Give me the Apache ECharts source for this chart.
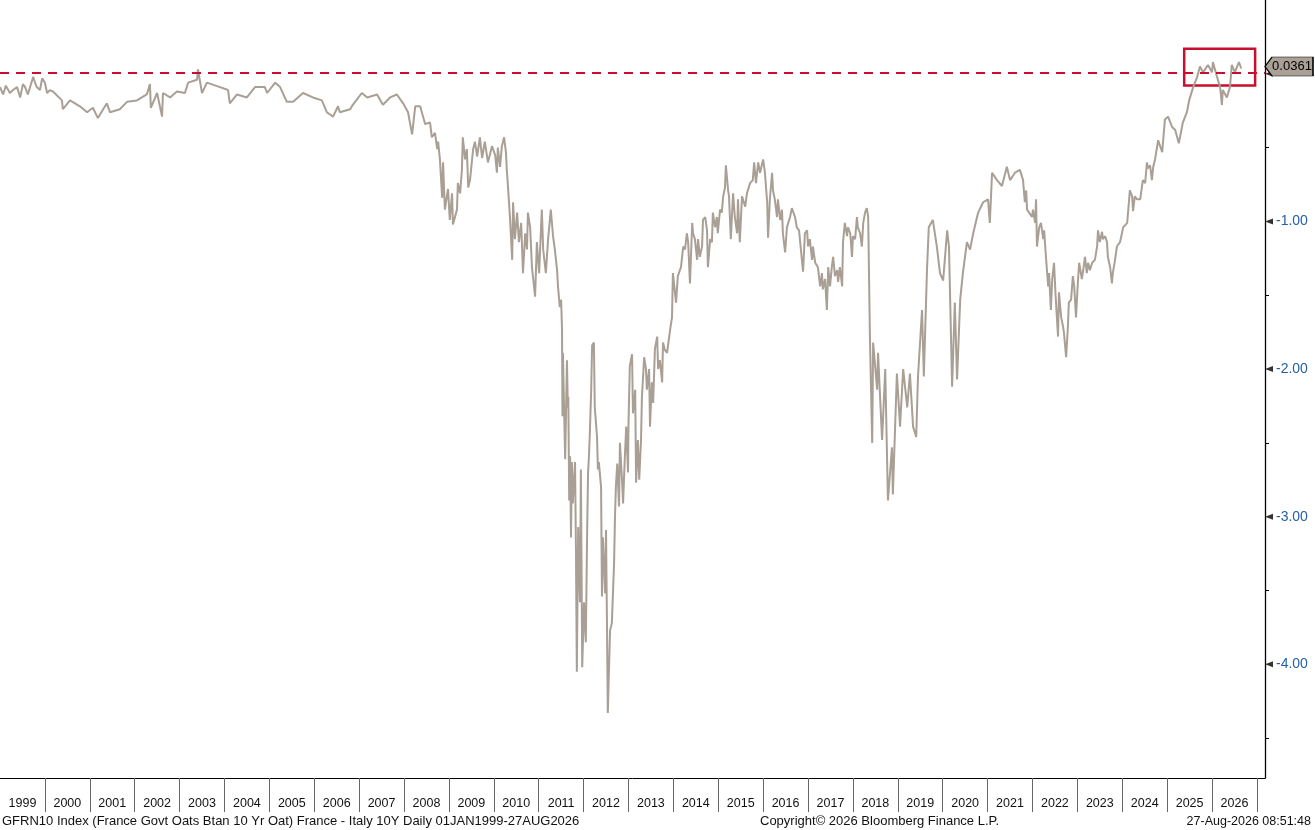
<!DOCTYPE html>
<html><head><meta charset="utf-8">
<script src="https://cdn.jsdelivr.net/npm/echarts@6/dist/echarts.min.js"></script>
<style>html,body{margin:0;padding:0;background:#fff;}#c{width:1315px;height:830px;}</style>
</head><body><div id="c"></div>
<script>
// France - Italy 10Y spread, [decimal year, value]
const spread1999_2008 = [
[1999.00,-0.09],[1999.07,-0.14],[1999.13,-0.08],[1999.22,-0.13],[1999.29,-0.11],[1999.38,-0.09],[1999.45,-0.16],[1999.51,-0.07],[1999.56,-0.09],[1999.62,-0.14],[1999.74,-0.02],[1999.78,-0.06],[1999.82,-0.09],[1999.89,-0.11],[1999.94,-0.03],[2000.00,-0.06],[2000.05,-0.13],[2000.11,-0.11],[2000.18,-0.12],[2000.38,-0.18],[2000.40,-0.24],[2000.56,-0.18],[2000.78,-0.22],[2000.94,-0.26],[2001.07,-0.23],[2001.18,-0.30],[2001.38,-0.20],[2001.45,-0.26],[2001.67,-0.24],[2001.83,-0.19],[2002.05,-0.18],[2002.27,-0.14],[2002.34,-0.07],[2002.36,-0.23],[2002.50,-0.13],[2002.61,-0.29],[2002.63,-0.13],[2002.79,-0.16],[2002.94,-0.12],[2003.12,-0.13],[2003.19,-0.06],[2003.39,-0.04],[2003.41,0.03],[2003.50,-0.13],[2003.61,-0.06],[2003.90,-0.09],[2004.08,-0.11],[2004.12,-0.20],[2004.28,-0.14],[2004.50,-0.16],[2004.68,-0.09],[2004.90,-0.09],[2004.95,-0.13],[2005.13,-0.06],[2005.24,-0.09],[2005.39,-0.19],[2005.53,-0.19],[2005.75,-0.13],[2005.97,-0.16],[2006.17,-0.18],[2006.28,-0.26],[2006.42,-0.29],[2006.53,-0.22],[2006.57,-0.26],[2006.80,-0.24],[2006.86,-0.21],[2007.06,-0.13],[2007.18,-0.16],[2007.40,-0.14],[2007.53,-0.21],[2007.69,-0.16],[2007.84,-0.14],[2007.98,-0.20],[2008.09,-0.26],[2008.18,-0.41],[2008.25,-0.22],[2008.36,-0.22],[2008.47,-0.34]
];
const spread2008_2011 = [
[2008.58,-0.33],[2008.62,-0.43],[2008.69,-0.40],[2008.74,-0.51],[2008.76,-0.46],[2008.80,-0.58],[2008.85,-0.84],[2008.87,-0.60],[2008.91,-0.92],[2008.98,-0.78],[2009.02,-0.99],[2009.07,-0.81],[2009.09,-1.02],[2009.18,-0.92],[2009.20,-0.74],[2009.25,-0.81],[2009.29,-0.65],[2009.31,-0.43],[2009.36,-0.58],[2009.40,-0.51],[2009.43,-0.77],[2009.47,-0.72],[2009.51,-0.60],[2009.54,-0.51],[2009.58,-0.46],[2009.63,-0.56],[2009.69,-0.43],[2009.74,-0.57],[2009.80,-0.46],[2009.87,-0.60],[2009.96,-0.49],[2010.03,-0.55],[2010.07,-0.67],[2010.09,-0.50],[2010.14,-0.63],[2010.18,-0.49],[2010.23,-0.43],[2010.27,-0.53],[2010.29,-0.65],[2010.32,-0.78],[2010.36,-0.97],[2010.41,-1.26],[2010.43,-0.87],[2010.47,-1.12],[2010.52,-0.94],[2010.56,-1.14],[2010.61,-1.01],[2010.65,-1.35],[2010.70,-1.08],[2010.74,-1.19],[2010.76,-0.94],[2010.81,-1.04],[2010.85,-1.31],[2010.92,-1.51],[2010.96,-1.14],[2011.01,-1.35],[2011.07,-0.92],[2011.10,-1.19],[2011.16,-1.35],[2011.21,-1.12],[2011.27,-0.92],[2011.32,-1.10],[2011.36,-1.19],[2011.41,-1.33],[2011.43,-1.44],[2011.47,-1.58],[2011.50,-1.53]
];
const spread2011_2013 = [
[2011.52,-1.73],[2011.53,-2.32],[2011.54,-1.89],[2011.59,-2.61],[2011.63,-1.94],[2011.65,-2.26],[2011.66,-2.19],[2011.68,-2.89],[2011.70,-2.59],[2011.72,-3.14],[2011.74,-2.63],[2011.76,-2.91],[2011.81,-2.63],[2011.83,-3.22],[2011.85,-4.05],[2011.88,-3.07],[2011.92,-3.58],[2011.94,-2.68],[2011.97,-4.02],[2012.01,-3.58],[2012.05,-3.85],[2012.08,-3.09],[2012.10,-2.70],[2012.12,-2.59],[2012.14,-2.43],[2012.17,-2.14],[2012.19,-1.84],[2012.23,-1.82],[2012.25,-2.26],[2012.30,-2.46],[2012.32,-2.68],[2012.34,-2.63],[2012.39,-2.80],[2012.41,-3.54],[2012.43,-3.14],[2012.48,-3.52],[2012.50,-3.09],[2012.52,-3.68],[2012.54,-4.33],[2012.59,-3.77],[2012.63,-3.72],[2012.68,-3.31],[2012.70,-3.00],[2012.72,-2.80],[2012.75,-2.64],[2012.79,-2.93],[2012.81,-2.50],[2012.86,-2.77],[2012.88,-2.91],[2012.92,-2.59],[2012.95,-2.39],[2012.99,-2.70],[2013.00,-2.39],[2013.03,-1.98],[2013.08,-1.90],[2013.10,-2.30],[2013.15,-2.14],[2013.17,-2.77],[2013.21,-2.48],[2013.24,-2.75],[2013.28,-2.48],[2013.30,-2.19],[2013.35,-1.92],[2013.39,-2.00],[2013.41,-2.14],[2013.46,-2.00],[2013.48,-2.39],[2013.52,-2.09],[2013.55,-2.23],[2013.59,-1.86],[2013.64,-1.78],[2013.66,-2.00],[2013.70,-1.94],[2013.75,-2.09],[2013.77,-1.82],[2013.81,-1.87],[2013.86,-1.89],[2013.93,-1.73]
];
const spread2014_2018 = [
[2013.97,-1.65],[2013.99,-1.35],[2014.06,-1.55],[2014.10,-1.37],[2014.17,-1.31],[2014.22,-1.17],[2014.26,-1.19],[2014.30,-1.08],[2014.33,-1.14],[2014.37,-1.42],[2014.42,-1.01],[2014.44,-1.08],[2014.48,-1.12],[2014.53,-1.26],[2014.55,-1.12],[2014.59,-1.24],[2014.64,-1.17],[2014.66,-0.99],[2014.71,-0.97],[2014.75,-1.06],[2014.77,-1.31],[2014.82,-1.12],[2014.86,-1.14],[2014.88,-0.94],[2014.93,-1.04],[2014.97,-0.97],[2014.99,-1.08],[2015.04,-0.92],[2015.08,-0.94],[2015.11,-0.83],[2015.15,-0.77],[2015.17,-0.62],[2015.22,-0.79],[2015.24,-0.83],[2015.28,-1.12],[2015.33,-0.81],[2015.37,-0.97],[2015.42,-1.08],[2015.44,-0.85],[2015.48,-1.14],[2015.53,-0.83],[2015.60,-0.90],[2015.64,-0.81],[2015.71,-0.74],[2015.77,-0.72],[2015.80,-0.60],[2015.84,-0.74],[2015.89,-0.60],[2015.93,-0.67],[2016.00,-0.58],[2016.04,-0.67],[2016.09,-0.87],[2016.11,-1.11],[2016.15,-0.85],[2016.20,-0.67],[2016.22,-0.79],[2016.26,-0.85],[2016.31,-0.97],[2016.33,-0.85],[2016.38,-0.99],[2016.42,-0.92],[2016.44,-1.08],[2016.49,-1.21],[2016.53,-1.04],[2016.60,-0.97],[2016.64,-0.91],[2016.71,-0.97],[2016.75,-1.04],[2016.80,-1.06],[2016.87,-1.28],[2016.89,-1.34],[2016.93,-1.08],[2016.98,-1.06],[2017.00,-1.17],[2017.04,-1.12],[2017.09,-1.26],[2017.11,-1.17],[2017.16,-1.28],[2017.22,-1.31],[2017.27,-1.44],[2017.31,-1.35],[2017.33,-1.46],[2017.38,-1.39],[2017.42,-1.60],[2017.45,-1.31],[2017.49,-1.44],[2017.53,-1.31],[2017.56,-1.24],[2017.60,-1.37],[2017.65,-1.33],[2017.67,-1.41],[2017.71,-1.31],[2017.76,-1.44],[2017.78,-1.14],[2017.82,-1.01],[2017.87,-1.10],[2017.89,-1.04],[2017.94,-1.08],[2017.98,-1.24],[2018.00,-1.10],[2018.05,-1.12],[2018.09,-0.97],[2018.11,-1.04],[2018.16,-1.08],[2018.20,-1.17],[2018.23,-1.01],[2018.27,-0.94],[2018.31,-0.91],[2018.34,-0.97]
];
const spread2018_2021 = [
[2018.38,-1.80],[2018.43,-2.50],[2018.45,-1.82],[2018.54,-2.14],[2018.56,-1.89],[2018.65,-2.48],[2018.72,-2.00],[2018.78,-2.89],[2018.87,-2.53],[2018.89,-2.85],[2018.98,-2.03],[2019.05,-2.39],[2019.12,-2.00],[2019.21,-2.26],[2019.27,-2.03],[2019.34,-2.39],[2019.41,-2.46],[2019.45,-2.05],[2019.54,-1.60],[2019.58,-2.05],[2019.65,-1.33],[2019.69,-1.04],[2019.78,-0.99],[2019.87,-1.17],[2019.94,-1.35],[2020.01,-1.40],[2020.10,-1.06],[2020.14,-1.17],[2020.21,-2.12],[2020.27,-1.55],[2020.32,-2.07],[2020.39,-1.53],[2020.45,-1.35],[2020.54,-1.14],[2020.61,-1.19],[2020.68,-1.08],[2020.79,-0.94],[2020.90,-0.87],[2021.01,-0.85],[2021.05,-1.01],[2021.10,-0.67],[2021.21,-0.72],[2021.32,-0.76],[2021.43,-0.63],[2021.50,-0.72],[2021.61,-0.67]
];
const spread2021_2024 = [
[2021.72,-0.65],[2021.77,-0.70],[2021.79,-0.72],[2021.83,-0.87],[2021.86,-0.79],[2021.88,-0.92],[2021.92,-0.91],[2021.99,-0.97],[2022.01,-0.92],[2022.06,-1.01],[2022.08,-0.85],[2022.10,-1.17],[2022.15,-1.04],[2022.19,-1.01],[2022.24,-1.12],[2022.26,-1.06],[2022.30,-1.24],[2022.35,-1.44],[2022.37,-1.35],[2022.41,-1.60],[2022.44,-1.39],[2022.48,-1.28],[2022.52,-1.53],[2022.57,-1.78],[2022.59,-1.48],[2022.64,-1.65],[2022.68,-1.71],[2022.70,-1.75],[2022.75,-1.92],[2022.79,-1.71],[2022.81,-1.55],[2022.86,-1.53],[2022.90,-1.37],[2022.93,-1.44],[2022.97,-1.65],[2023.01,-1.42],[2023.04,-1.28],[2023.10,-1.39],[2023.13,-1.33],[2023.17,-1.24],[2023.21,-1.35],[2023.24,-1.28],[2023.28,-1.33],[2023.33,-1.28],[2023.35,-1.27],[2023.39,-1.26],[2023.44,-1.17],[2023.46,-1.06],[2023.50,-1.14],[2023.55,-1.07],[2023.57,-1.12],[2023.62,-1.10],[2023.66,-1.14],[2023.68,-1.24],[2023.73,-1.31],[2023.77,-1.42],[2023.79,-1.35],[2023.84,-1.26],[2023.88,-1.17],[2023.91,-1.18],[2023.95,-1.14],[2024.00,-1.07],[2024.02,-1.04],[2024.06,-1.04],[2024.11,-1.01],[2024.13,-1.00],[2024.17,-0.79],[2024.22,-0.83],[2024.24,-0.93],[2024.28,-0.83],[2024.33,-0.85],[2024.35,-0.84],[2024.40,-0.85],[2024.44,-0.76],[2024.46,-0.72],[2024.51,-0.74],[2024.55,-0.60],[2024.57,-0.64],[2024.62,-0.62],[2024.66,-0.72],[2024.69,-0.63],[2024.73,-0.58]
];
const spread2024_2026 = [
[2024.80,-0.45],[2024.89,-0.53],[2024.95,-0.31],[2025.02,-0.29],[2025.11,-0.36],[2025.18,-0.38],[2025.26,-0.47],[2025.35,-0.33],[2025.44,-0.26],[2025.49,-0.18],[2025.58,-0.09],[2025.67,-0.02],[2025.73,0.05],[2025.80,0.01],[2025.91,0.06],[2026.00,0.01],[2026.02,0.08],[2026.11,-0.02],[2026.18,-0.09],[2026.22,-0.21],[2026.24,-0.11],[2026.33,-0.16],[2026.40,-0.09],[2026.44,0.06],[2026.51,0.01],[2026.56,0.05],[2026.60,0.08],[2026.65,0.0361]
];
const lastValue = 0.0361;
const dashedLevel = 0.015;
const yearLabels = [1999,2000,2001,2002,2003,2004,2005,2006,2007,2008,2009,2010,2011,2012,2013,2014,2015,2016,2017,2018,2019,2020,2021,2022,2023,2024,2025,2026];
const yearBoundaries = [2000,2001,2002,2003,2004,2005,2006,2007,2008,2009,2010,2011,2012,2013,2014,2015,2016,2017,2018,2019,2020,2021,2022,2023,2024,2025,2026,2027];
const yMajorTicks = [0,-1,-2,-3,-4];
const yLabelTicks = [-1,-2,-3,-4];
const yMinorTicks = [-0.5,-1.5,-2.5,-3.5,-4.5];
const highlightBox = [[2025.38,0.17],[2026.96,-0.08]];
const xMin = 1999, xMax = 2027.18, yMin = -4.77, yMax = 0.5;

const lineColor = '#a99f95';
const red = '#c8102e';
const font = 'Liberation Sans';
const data = spread1999_2008.concat(spread2008_2011, spread2011_2013, spread2014_2018, spread2018_2021, spread2021_2024, spread2024_2026);

const chart = echarts.init(document.getElementById('c'), null, {renderer:'canvas'});
chart.setOption({
  animation:false,
  backgroundColor:'#fff',
  grid:{left:0,right:50,top:0,bottom:52,containLabel:false},
  xAxis:{
    type:'value',min:xMin,max:xMax,
    axisLine:{show:true,onZero:false,lineStyle:{color:'#000',width:1}},
    axisTick:{show:true,customValues:yearBoundaries,length:34,lineStyle:{color:'#666',width:1}},
    axisLabel:{show:true,customValues:yearLabels.map(v=>v+0.5),formatter:v=>String(Math.floor(v)),
      color:'#111',fontFamily:font,fontSize:12.5,margin:19},
    splitLine:{show:false}
  },
  yAxis:[{
    type:'value',position:'right',min:yMin,max:yMax,
    axisLine:{show:true,lineStyle:{color:'#000',width:1.3}},
    axisTick:{show:true,customValues:yMinorTicks,length:4,lineStyle:{color:'#000',width:1}},
    axisLabel:{show:true,customValues:yLabelTicks,formatter:v=>Number(v).toFixed(2),
      color:'#2660a8',fontFamily:font,fontSize:14,margin:11},
    splitLine:{show:false}
  }],
  series:[{
    type:'line',data:data,showSymbol:false,symbol:'none',
    lineStyle:{color:lineColor,width:2},
    z:3,
    markLine:{silent:true,symbol:['none','none'],
      lineStyle:{color:red,type:[9,7],width:2},
      label:{show:false},
      data:[{yAxis:dashedLevel}]},
    markArea:{silent:true,
      itemStyle:{color:'rgba(0,0,0,0)',borderColor:red,borderWidth:2.5},
      data:[[{coord:highlightBox[0]},{coord:highlightBox[1]}]]},
    markPoint:{silent:true,
      symbol:'path://M0,9 L7,0 L48,0 L48,18 L7,18 Z',
      symbolSize:[48,19],symbolKeepAspect:false,symbolOffset:[24,-2],
      itemStyle:{color:'#aaa095',borderColor:'#000',borderWidth:1},
      label:{show:true,position:'inside',offset:[3,0],formatter:()=>String(lastValue),
        color:'#000',fontFamily:font,fontSize:13},
      data:[{coord:[xMax,lastValue],value:lastValue}]}
  },{
    type:'scatter',clip:false,silent:true,z:4,
    data:yMajorTicks.map(v=>[xMax,v]),
    symbol:'path://M0,5 L10,0 L10,10 Z',symbolSize:[8,6],symbolKeepAspect:false,symbolOffset:[4,0],
    itemStyle:{color:'#000'}
  }],
  graphic:[
    {type:'text',left:2,top:815,style:{text:'GFRN10 Index (France Govt Oats Btan 10 Yr Oat) France - Italy 10Y Daily 01JAN1999-27AUG2026',font:'13px "Liberation Sans"',fill:'#111'}},
    {type:'text',left:760,top:815,style:{text:'Copyright\u00a9 2026 Bloomberg Finance L.P.',font:'13px "Liberation Sans"',fill:'#111'}},
    {type:'text',right:4,top:815,style:{text:'27-Aug-2026 08:51:48',font:'12.5px "Liberation Sans"',fill:'#111'}}
  ]
});
</script></body></html>
